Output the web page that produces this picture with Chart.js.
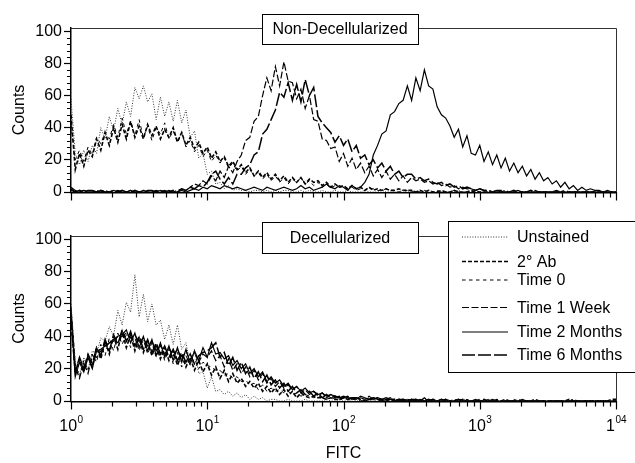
<!doctype html>
<html lang="en">
  <head>
    <meta charset="utf-8">
    <script src="https://cdn.jsdelivr.net/npm/chart.js@4.4.1/dist/chart.umd.min.js"></script>
    <title>FITC histograms</title>
    <style>
      * { margin: 0; padding: 0; }
      body { background: #fff; width: 635px; height: 463px; position: relative; overflow: hidden; }
      canvas { position: absolute; left: 0; top: 0; }
    </style>
  </head>
  <body>
    <canvas id="topChart" width="635" height="463"></canvas>
    <canvas id="bottomChart" width="635" height="463"></canvas>
    <script>
    // histogram counts, 32 channels per decade, channel 0 = FITC 1, channel 128 = FITC 10^4
    const unstainedTop = [
      58, 24, 17, 26, 19, 29, 24, 40, 33, 47, 38, 52, 42, 56, 47, 65,
      58, 66, 56, 61, 45, 59, 47, 56, 44, 57, 43, 51, 34, 38, 21, 24,
      11, 13, 5, 6, 2, 4, 1, 2, 1, 1, 0, 1, 1, 0, 1, 0,
      1, 0, 1, 1, 0, 0, 1, 0, 1, 0, 0, 1, 0, 0, 1, 0,
      0, 1, 0, 0, 0, 1, 0, 0, 0, 1, 0, 0, 0, 0, 1, 0,
      0, 0, 0, 0, 1, 0, 0, 0, 0, 0, 0, 1, 0, 0, 0, 0,
      0, 0, 0, 0, 0, 0, 0, 0, 0, 0, 0, 0, 0, 0, 0, 0,
      0, 0, 0, 0, 0, 0, 0, 0, 0, 0, 0, 0, 0, 0, 0, 0,
      0];
    const secondAbTop = [
      48, 14, 24, 16, 26, 22, 33, 26, 37, 29, 40, 31, 42, 33, 44, 34,
      41, 33, 42, 35, 41, 33, 39, 34, 40, 31, 37, 29, 34, 27, 31, 24,
      28, 21, 25, 19, 22, 16, 19, 14, 17, 12, 15, 10, 13, 9, 12, 8,
      11, 7, 10, 6, 9, 6, 9, 5, 8, 6, 7, 4, 6, 3, 5, 3,
      4, 2, 4, 2, 3, 1, 3, 1, 2, 1, 2, 1, 1, 2, 1, 1,
      1, 0, 1, 0, 1, 0, 0, 1, 0, 0, 1, 0, 0, 0, 1, 0,
      0, 0, 0, 0, 0, 0, 0, 0, 0, 0, 0, 0, 0, 0, 0, 0,
      0, 0, 0, 0, 0, 0, 0, 0, 0, 0, 0, 0, 0, 0, 0, 0,
      0];
    const time0Top = [
      42, 20, 26, 19, 28, 23, 34, 30, 37, 33, 42, 34, 46, 36, 44, 35,
      45, 34, 41, 32, 40, 36, 43, 33, 38, 31, 37, 28, 32, 25, 29, 22,
      26, 19, 23, 18, 21, 15, 18, 13, 16, 11, 14, 10, 12, 8, 11, 7,
      10, 6, 9, 5, 8, 6, 9, 5, 7, 4, 6, 3, 5, 2, 4, 3,
      3, 2, 3, 1, 2, 1, 2, 2, 1, 1, 2, 1, 1, 0, 1, 1,
      0, 1, 0, 1, 0, 0, 1, 0, 0, 0, 1, 0, 0, 0, 0, 1,
      0, 0, 0, 0, 0, 0, 0, 0, 0, 0, 0, 0, 0, 0, 0, 0,
      0, 0, 0, 0, 0, 0, 0, 0, 0, 0, 0, 0, 0, 0, 0, 0,
      0];
    const week1Top = [
      3, 1, 0, 1, 0, 0, 1, 0, 1, 0, 0, 1, 0, 0, 1, 0,
      0, 1, 0, 0, 1, 0, 1, 0, 0, 1, 2, 1, 3, 5, 4, 7,
      5, 10, 7, 13, 9, 16, 12, 19, 23, 32, 34, 44, 47, 60, 71, 63,
      78, 66, 81, 69, 68, 58, 64, 52, 60, 45, 44, 33, 32, 27, 28, 19,
      24, 16, 21, 14, 18, 12, 16, 10, 14, 9, 13, 8, 11, 7, 10, 6,
      9, 7, 8, 6, 7, 5, 6, 4, 5, 3, 4, 2, 3, 2, 2, 1,
      2, 1, 1, 0, 1, 0, 1, 0, 0, 1, 0, 0, 0, 1, 0, 0,
      0, 0, 1, 0, 0, 0, 0, 0, 0, 0, 0, 0, 0, 0, 0, 0,
      0];
    const months2Top = [
      1, 0, 0, 1, 0, 0, 0, 1, 0, 0, 1, 0, 0, 0, 1, 0,
      0, 1, 0, 0, 0, 1, 0, 1, 0, 0, 1, 0, 1, 2, 1, 3,
      2, 4, 3, 2, 4, 3, 2, 3, 2, 1, 2, 3, 2, 1, 3, 2,
      1, 2, 3, 2, 1, 2, 4, 2, 3, 1, 2, 3, 5, 3, 2, 4,
      3, 1, 4, 2, 3, 6, 11, 23, 29, 36, 38, 48, 50, 55, 57, 66,
      57, 71, 63, 76, 66, 64, 53, 48, 46, 41, 34, 39, 28, 35, 24, 23,
      29, 19, 25, 17, 23, 15, 21, 13, 18, 12, 16, 10, 14, 8, 12, 7,
      9, 5, 7, 3, 6, 2, 4, 1, 3, 1, 2, 1, 1, 0, 1, 0,
      0];
    const months6Top = [
      2, 0, 1, 0, 1, 1, 0, 1, 0, 0, 1, 0, 1, 0, 0, 1,
      0, 0, 1, 1, 0, 1, 0, 0, 1, 0, 2, 1, 3, 2, 4, 3,
      6, 11, 13, 8, 5, 9, 5, 11, 11, 15, 17, 23, 25, 36, 39, 45,
      51, 62, 59, 68, 57, 67, 56, 70, 60, 65, 47, 43, 40, 37, 31, 35,
      29, 33, 25, 29, 21, 23, 17, 20, 15, 18, 13, 16, 11, 13, 9, 11,
      11, 8, 9, 7, 8, 6, 5, 6, 4, 5, 3, 4, 2, 3, 2, 1,
      2, 1, 1, 0, 1, 1, 0, 0, 1, 0, 0, 0, 1, 0, 0, 0,
      0, 0, 0, 0, 1, 0, 0, 0, 0, 0, 0, 0, 0, 0, 0, 0,
      0];

    const unstainedBot = [
      60, 24, 16, 27, 19, 31, 29, 39, 37, 46, 40, 56, 47, 61, 55, 78,
      52, 66, 49, 60, 47, 50, 38, 47, 35, 47, 32, 36, 23, 32, 17, 18,
      8, 15, 6, 7, 4, 6, 3, 5, 2, 4, 1, 3, 1, 2, 0, 1,
      1, 0, 0, 1, 0, 0, 0, 1, 0, 0, 0, 0, 1, 0, 0, 0,
      0, 0, 1, 0, 0, 0, 0, 0, 0, 0, 0, 0, 0, 0, 0, 0,
      0, 0, 0, 0, 0, 0, 0, 0, 0, 0, 0, 0, 0, 0, 0, 0,
      0, 0, 0, 0, 0, 0, 0, 0, 0, 0, 0, 0, 0, 0, 0, 0,
      0, 0, 0, 0, 0, 0, 0, 0, 0, 0, 0, 0, 0, 0, 0, 0,
      0];
    const secondAbBot = [
      50, 17, 26, 18, 28, 21, 33, 26, 37, 29, 40, 32, 43, 33, 41, 31,
      39, 30, 37, 28, 35, 26, 33, 25, 31, 22, 29, 21, 27, 19, 25, 18,
      23, 16, 21, 14, 19, 12, 17, 11, 14, 9, 12, 8, 11, 6, 9, 5,
      8, 4, 7, 3, 6, 2, 5, 3, 2, 3, 2, 2, 1, 2, 1, 1,
      2, 1, 1, 2, 1, 0, 1, 1, 2, 1, 0, 1, 1, 0, 1, 0,
      1, 0, 0, 1, 0, 1, 0, 0, 1, 0, 0, 0, 1, 0, 0, 0,
      0, 1, 0, 0, 0, 0, 1, 0, 0, 0, 0, 0, 0, 1, 0, 0,
      0, 0, 0, 0, 0, 1, 0, 0, 0, 0, 0, 0, 0, 0, 0, 1,
      1];
    const time0Bot = [
      58, 23, 15, 25, 19, 29, 24, 35, 28, 39, 31, 42, 35, 41, 33, 39,
      31, 38, 29, 36, 27, 34, 25, 32, 23, 30, 21, 28, 22, 26, 20, 24,
      22, 21, 19, 19, 16, 17, 14, 15, 12, 13, 10, 11, 7, 10, 6, 8,
      6, 7, 5, 6, 4, 5, 3, 4, 3, 2, 3, 2, 2, 1, 2, 1,
      1, 2, 1, 1, 0, 1, 2, 1, 0, 1, 1, 0, 1, 0, 0, 1,
      0, 1, 0, 0, 1, 0, 0, 0, 1, 0, 0, 0, 0, 1, 0, 0,
      0, 0, 1, 0, 0, 0, 0, 0, 1, 0, 0, 0, 0, 0, 0, 0,
      0, 0, 0, 0, 0, 0, 0, 0, 0, 0, 0, 0, 0, 0, 0, 0,
      0];
    const week1Bot = [
      55, 21, 14, 24, 17, 28, 27, 31, 33, 36, 37, 40, 40, 42, 39, 41,
      36, 39, 34, 37, 31, 35, 29, 33, 28, 32, 26, 31, 25, 30, 24, 29,
      27, 31, 25, 28, 21, 26, 19, 23, 17, 21, 15, 19, 13, 17, 11, 14,
      9, 12, 8, 10, 7, 9, 5, 7, 4, 6, 3, 5, 2, 4, 2, 3,
      2, 3, 1, 2, 2, 1, 3, 1, 2, 1, 1, 2, 0, 1, 1, 0,
      1, 1, 0, 2, 0, 1, 0, 1, 0, 0, 1, 0, 1, 0, 0, 0,
      1, 0, 0, 0, 1, 0, 0, 0, 0, 1, 0, 0, 0, 0, 0, 0,
      0, 0, 0, 0, 0, 0, 1, 0, 0, 0, 0, 0, 0, 0, 0, 0,
      0];
    const months2Bot = [
      57, 15, 24, 18, 27, 20, 31, 32, 34, 36, 38, 40, 41, 44, 36, 42,
      33, 40, 31, 38, 28, 36, 27, 34, 25, 33, 24, 32, 23, 31, 25, 33,
      27, 36, 29, 30, 26, 28, 22, 25, 20, 23, 17, 20, 15, 18, 12, 15,
      11, 13, 9, 11, 7, 9, 6, 8, 5, 6, 4, 5, 3, 4, 3, 2,
      3, 2, 2, 1, 3, 2, 1, 2, 1, 1, 2, 1, 0, 1, 1, 0,
      1, 0, 1, 0, 0, 1, 0, 0, 1, 0, 0, 1, 0, 0, 0, 1,
      0, 0, 0, 1, 0, 0, 0, 0, 0, 0, 1, 0, 0, 0, 0, 0,
      0, 0, 0, 0, 0, 0, 0, 0, 0, 0, 0, 0, 0, 0, 0, 0,
      0];
    const months6Bot = [
      52, 18, 27, 20, 29, 23, 33, 28, 38, 31, 41, 35, 44, 37, 43, 34,
      40, 32, 38, 30, 36, 29, 34, 27, 32, 25, 30, 24, 29, 23, 28, 30,
      31, 33, 36, 27, 30, 22, 27, 19, 24, 17, 21, 14, 18, 12, 16, 10,
      13, 8, 11, 6, 9, 5, 7, 4, 6, 3, 5, 2, 4, 2, 3, 2,
      2, 1, 2, 2, 1, 0, 1, 2, 1, 0, 1, 1, 0, 1, 0, 1,
      0, 1, 0, 0, 1, 0, 0, 1, 0, 0, 0, 1, 0, 0, 0, 0,
      0, 0, 0, 0, 0, 0, 0, 0, 0, 0, 0, 0, 0, 0, 0, 0,
      0, 0, 0, 0, 0, 0, 0, 0, 0, 0, 0, 0, 0, 0, 0, 0,
      0];

    const seriesNames = ['Unstained', '2° Ab', 'Time 0', 'Time 1 Week', 'Time 2 Months', 'Time 6 Months'];
    const yTicks = [0, 20, 40, 60, 80, 100];
    const xTickValues = [1, 10, 100, 1000, 10000];
    const xTickBase = ['10', '10', '10', '10', '1'];
    const xTickExp = ['0', '1', '2', '3', '04'];

    // line styles
    const seriesColors = ['#333', '#000', '#000', '#000', '#000', '#000'];
    const seriesWidths = [1, 1.6, 1, 1.2, 1.2, 1.5];
    const seriesDashes = [[1, 1.6], [4, 2], [3.5, 3.5], [7, 2.5], [], [13, 3]];

    const channelsPerDecade = 32;
    const fitc = unstainedTop.map((_, k) => Math.pow(10, k / channelsPerDecade));

    const FONT = '"Liberation Sans", Arial, Helvetica, sans-serif';
    Chart.defaults.font.family = FONT;
    Chart.defaults.font.size = 16;
    Chart.defaults.color = '#000';

    function makeDatasets(list) {
      return list.map((values, i) => ({
        label: seriesNames[i],
        data: values.map((v, k) => ({ x: fitc[k], y: v })),
        borderColor: seriesColors[i],
        borderWidth: seriesWidths[i],
        borderDash: seriesDashes[i],
        pointRadius: 0,
        fill: false,
        tension: 0
      }));
    }

    const panelDecor = {
      id: 'panelDecor',
      afterDraw(chart, args, opts) {
        const ctx = chart.ctx;
        const { left, right, top, bottom } = chart.chartArea;
        const xs = chart.scales.x, ys = chart.scales.y;
        ctx.save();
        ctx.setLineDash([]);
        // frame
        ctx.strokeStyle = '#333';
        ctx.lineWidth = 1;
        ctx.beginPath();
        ctx.moveTo(left, top + 0.5);
        ctx.lineTo(right + 0.5, top + 0.5);
        ctx.lineTo(right + 0.5, bottom);
        ctx.stroke();
        // x axis line and ticks
        ctx.strokeStyle = '#000';
        ctx.lineWidth = 1.5;
        ctx.beginPath();
        ctx.moveTo(left - 0.75, bottom + 0.75);
        ctx.lineTo(right + 1, bottom + 0.75);
        ctx.stroke();
        ctx.lineWidth = 1.2;
        ctx.beginPath();
        for (let d = 1; d < 10000; d *= 10) {
          for (let m = 1; m <= 9; m++) {
            const px = Math.round(xs.getPixelForValue(m * d)) + 0.5;
            ctx.moveTo(px, bottom);
            ctx.lineTo(px, bottom + (m === 1 ? 8.5 : 5.5));
          }
        }
        const pEnd = Math.round(xs.getPixelForValue(10000)) + 0.5;
        ctx.moveTo(pEnd, bottom);
        ctx.lineTo(pEnd, bottom + 8.5);
        ctx.stroke();
        // y minor ticks
        ctx.lineWidth = 1;
        ctx.beginPath();
        for (let v = 4; v < 100; v += 4) {
          if (v % 20 === 0) continue;
          const py = Math.round(ys.getPixelForValue(v)) + 0.5;
          ctx.moveTo(left, py);
          ctx.lineTo(left - 4, py);
        }
        ctx.stroke();

        // panel title box
        const b = opts.box;
        ctx.fillStyle = '#fff';
        ctx.fillRect(b.x, b.y, b.w, b.h);
        ctx.strokeStyle = '#000';
        ctx.lineWidth = 1;
        ctx.strokeRect(b.x + 0.5, b.y + 0.5, b.w, b.h);
        ctx.fillStyle = '#000';
        ctx.font = '16px ' + FONT;
        ctx.textAlign = 'center';
        ctx.textBaseline = 'middle';
        ctx.fillText(opts.title, b.x + b.w / 2, b.y + b.h / 2 + 1);

        if (opts.xLabels) {
          ctx.textBaseline = 'alphabetic';
          ctx.textAlign = 'left';
          xTickValues.forEach((v, i) => {
            const px = xs.getPixelForValue(v);
            ctx.font = '16px ' + FONT;
            const wb = ctx.measureText(xTickBase[i]).width;
            ctx.font = '10px ' + FONT;
            const we = ctx.measureText(xTickExp[i]).width;
            const x0 = px - (wb + we) / 2;
            ctx.font = '16px ' + FONT;
            ctx.fillText(xTickBase[i], x0, 431);
            ctx.font = '10px ' + FONT;
            ctx.fillText(xTickExp[i], x0 + wb + 0.5, 423);
          });
          ctx.font = '16px ' + FONT;
          ctx.textAlign = 'center';
          ctx.fillText('FITC', (left + right) / 2, 458);
        }

        if (opts.legend) {
          const L = opts.legend;
          ctx.fillStyle = '#fff';
          ctx.fillRect(L.x, L.y, L.w, L.h);
          ctx.strokeStyle = '#000';
          ctx.lineWidth = 1;
          ctx.strokeRect(L.x + 0.5, L.y + 0.5, L.w, L.h);
          ctx.font = '16px ' + FONT;
          ctx.textAlign = 'left';
          ctx.textBaseline = 'middle';
          chart.data.datasets.forEach((ds, i) => {
            const ly = L.rows[i];
            ctx.strokeStyle = ds.borderColor;
            ctx.lineWidth = ds.borderWidth;
            ctx.setLineDash(ds.borderDash);
            ctx.beginPath();
            ctx.moveTo(L.lineX0, ly);
            ctx.lineTo(L.lineX1, ly);
            ctx.stroke();
            ctx.setLineDash([]);
            ctx.fillStyle = '#000';
            ctx.fillText(ds.label, L.textX, ly + 1);
          });
        }
        ctx.restore();
      }
    };

    function makeOptions(padTop, padBottom, yMax, decor) {
      return {
        responsive: false,
        animation: false,
        events: [],
        layout: { padding: { top: padTop, bottom: padBottom, left: 0, right: 19 } },
        plugins: { legend: { display: false }, tooltip: { enabled: false }, panelDecor: decor },
        scales: {
          x: { type: 'logarithmic', min: 1, max: 10000, display: false },
          y: {
            min: 0,
            max: yMax,
            afterBuildTicks: s => { s.ticks = yTicks.map(v => ({ value: v })); },
            afterFit: s => { s.width = 71; },
            grid: { drawOnChartArea: false, tickLength: 7, tickColor: '#000', tickWidth: 1.2 },
            border: { color: '#000', width: 1.5 },
            ticks: { padding: 2, color: '#000', font: { size: 16 } },
            title: { display: true, text: 'Counts', color: '#000', font: { size: 16 }, padding: { top: 10, bottom: 0 } }
          }
        }
      };
    }

    new Chart(document.getElementById('topChart'), {
      type: 'line',
      data: { datasets: makeDatasets([unstainedTop, secondAbTop, time0Top, week1Top, months2Top, months6Top]) },
      options: makeOptions(28, 271, 102, {
        title: 'Non-Decellularized',
        box: { x: 262, y: 14, w: 156, h: 30 },
        xLabels: false
      }),
      plugins: [panelDecor]
    });

    new Chart(document.getElementById('bottomChart'), {
      type: 'line',
      data: { datasets: makeDatasets([unstainedBot, secondAbBot, time0Bot, week1Bot, months2Bot, months6Bot]) },
      options: makeOptions(236, 62, 102, {
        title: 'Decellularized',
        box: { x: 262, y: 222, w: 156, h: 31 },
        xLabels: true,
        legend: {
          x: 448, y: 221, w: 200, h: 151,
          lineX0: 462, lineX1: 508, textX: 517,
          rows: [237, 261.5, 280, 307.5, 332, 355]
        }
      }),
      plugins: [panelDecor]
    });
    </script>
  </body>
</html>
